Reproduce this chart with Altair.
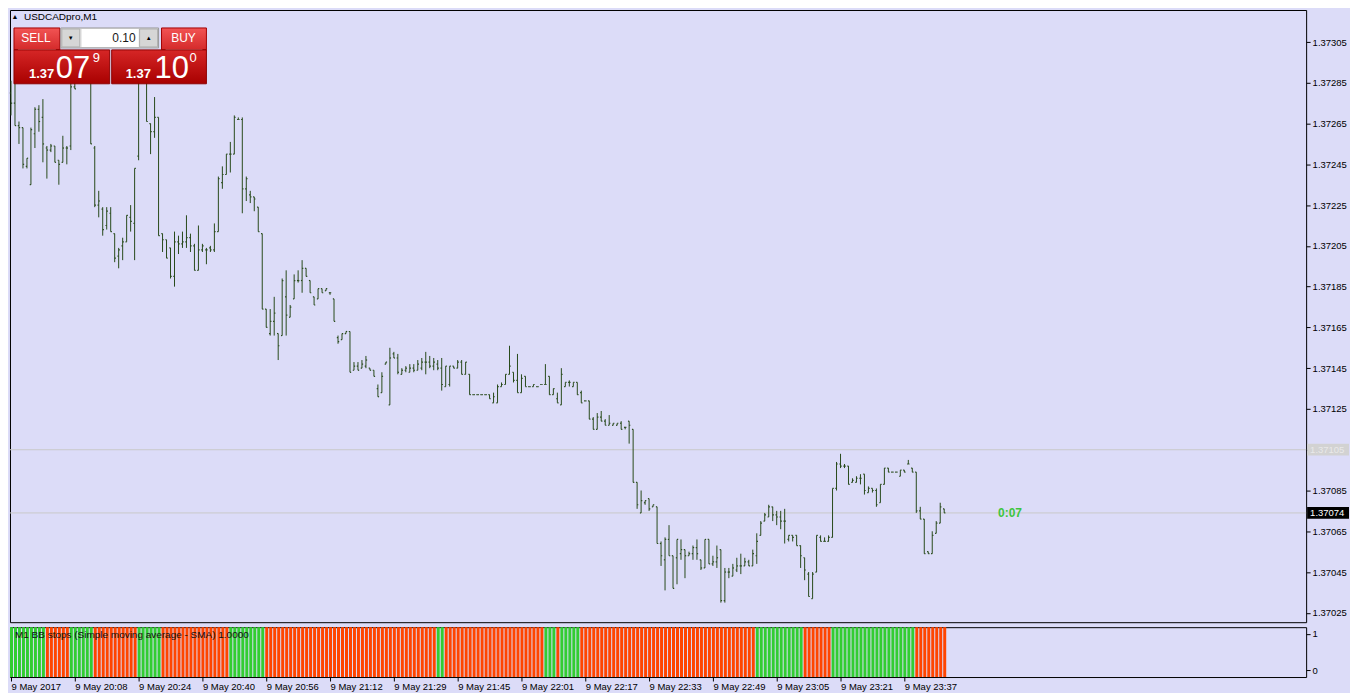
import json
import altair as alt
import pandas as pd

# ---------------- data (prices as 1.37 + value / 100000) ----------------
SYMBOL = "USDCADpro,M1"
BASE = 1.37

opens = [280, 275, 264, 263, 244, 235, 260, 272, 268, 253, 252, 254, 247, 246, 253, 254, 283, 288, 295, 292,
         288, 253, 225, 223, 215, 221, 211, 200, 205, 207, 219, 216, 249, 288, 290, 265, 261, 268, 211, 208,
         204, 190, 207, 206, 207, 209, 205, 193, 203, 203, 204, 203, 212, 236, 240, 250, 250, 267, 267, 233,
         230, 229, 224, 211, 174, 162, 168, 162, 161, 180, 170, 179, 188, 188, 194, 188, 180, 179, 184, 183,
         182, 179, 160, 159, 162, 163, 144, 146, 145, 146, 145, 144, 135, 133, 147, 127, 152, 150, 142, 144,
         143, 145, 144, 145, 148, 148, 146, 147, 145, 136, 137, 146, 145, 148, 142, 142, 132, 132, 132, 132,
         132, 128, 128, 136, 137, 142, 143, 139, 133, 141, 136, 136, 136, 137, 137, 141, 132, 130, 127, 136,
         138, 136, 138, 133, 129, 129, 120, 115, 121, 119, 117, 117, 117, 118, 116, 119, 115, 89, 74, 79,
         81, 77, 77, 59, 51, 61, 53, 52, 54, 56, 53, 54, 57, 51, 47, 61, 49, 50, 56, 31,
         45, 43, 46, 48, 48, 50, 48, 53, 63, 70, 72, 77, 73, 72, 70, 61, 63, 63, 58, 52,
         44, 32, 45, 62, 60, 60, 62, 86, 98, 97, 97, 89, 89, 91, 93, 84, 86, 85, 79, 88,
         96, 94, 94, 92, 95, 98, 96, 94, 75, 71, 55, 54, 64, 69, 76]
highs = [286, 286, 266, 263, 248, 263, 273, 274, 277, 254, 255, 254, 247, 259, 254, 290, 293, 298, 300, 296,
         290, 254, 232, 224, 224, 224, 211, 204, 209, 220, 225, 243, 295, 300, 293, 265, 278, 268, 211, 208,
         204, 212, 210, 212, 220, 211, 206, 215, 206, 204, 205, 216, 239, 244, 250, 256, 269, 268, 268, 239,
         232, 229, 224, 211, 174, 174, 180, 162, 189, 193, 176, 191, 193, 198, 194, 188, 180, 184, 184, 184,
         182, 179, 161, 162, 163, 163, 148, 148, 149, 151, 145, 144, 137, 143, 148, 155, 153, 152, 145, 146,
         147, 147, 149, 150, 153, 151, 150, 149, 150, 146, 146, 146, 149, 149, 148, 142, 132, 132, 132, 132,
         132, 133, 137, 138, 142, 156, 143, 152, 142, 141, 136, 137, 136, 137, 147, 141, 135, 133, 145, 138,
         139, 138, 138, 134, 129, 129, 121, 123, 124, 120, 122, 118, 118, 119, 116, 119, 115, 89, 85, 80,
         81, 78, 77, 60, 62, 68, 53, 61, 61, 56, 55, 58, 61, 51, 61, 61, 53, 58, 56, 47,
         47, 49, 52, 54, 52, 51, 56, 64, 70, 74, 78, 77, 75, 75, 76, 63, 63, 63, 58, 52,
         45, 45, 63, 63, 62, 63, 86, 99, 103, 98, 97, 91, 92, 93, 93, 87, 86, 86, 88, 96,
         96, 94, 94, 95, 95, 100, 96, 94, 77, 71, 55, 65, 70, 79, 76]
lows = [269, 264, 255, 243, 243, 235, 253, 261, 246, 238, 251, 246, 235, 246, 245, 252, 282, 286, 290, 286,
        255, 224, 219, 210, 213, 212, 197, 194, 198, 207, 212, 198, 247, 286, 266, 250, 258, 210, 202, 199,
        189, 185, 201, 204, 204, 202, 193, 193, 202, 196, 202, 202, 212, 233, 240, 241, 250, 267, 221, 227,
        226, 222, 212, 174, 165, 161, 161, 149, 161, 161, 170, 179, 187, 182, 190, 182, 176, 179, 182, 183,
        181, 168, 157, 159, 162, 143, 144, 144, 145, 145, 144, 141, 131, 133, 147, 127, 150, 142, 142, 143,
        143, 143, 144, 144, 142, 145, 144, 144, 134, 136, 136, 145, 145, 142, 142, 132, 132, 132, 132, 132,
        130, 128, 128, 136, 137, 142, 138, 133, 133, 136, 136, 136, 136, 137, 137, 132, 132, 128, 127, 136,
        136, 136, 132, 128, 129, 120, 115, 115, 119, 117, 117, 117, 117, 115, 115, 108, 89, 76, 74, 78,
        75, 77, 59, 48, 36, 53, 37, 39, 51, 42, 53, 51, 51, 46, 47, 49, 48, 47, 30, 30,
        42, 43, 45, 44, 48, 48, 48, 49, 63, 70, 72, 70, 68, 66, 59, 60, 60, 58, 47, 41,
        33, 32, 45, 60, 60, 60, 62, 85, 96, 96, 88, 89, 89, 88, 83, 84, 84, 77, 79, 88,
        94, 94, 94, 92, 94, 98, 94, 74, 71, 54, 54, 54, 64, 69, 74]
closes = [275, 264, 263, 245, 248, 262, 272, 266, 255, 252, 254, 246, 245, 253, 253, 283, 282, 295, 292, 288,
          255, 225, 227, 213, 222, 212, 199, 203, 207, 220, 217, 243, 288, 292, 266, 261, 268, 210, 208, 199,
          190, 207, 206, 207, 209, 205, 193, 203, 205, 203, 203, 212, 238, 240, 250, 250, 268, 267, 233, 238,
          229, 228, 212, 174, 165, 168, 172, 156, 188, 171, 175, 188, 188, 194, 190, 182, 176, 184, 182, 184,
          182, 168, 158, 162, 163, 143, 146, 144, 147, 149, 144, 141, 131, 141, 148, 150, 150, 143, 144, 145,
          145, 144, 147, 148, 148, 146, 148, 145, 137, 146, 146, 145, 148, 142, 148, 132, 132, 132, 132, 132,
          130, 131, 136, 137, 142, 146, 139, 133, 140, 136, 136, 137, 136, 137, 137, 132, 135, 128, 142, 138,
          138, 138, 132, 128, 129, 120, 115, 121, 119, 117, 118, 118, 118, 115, 116, 117, 89, 78, 80, 80,
          76, 78, 59, 53, 61, 53, 37, 61, 56, 53, 54, 57, 54, 47, 61, 49, 50, 52, 31, 45,
          45, 47, 48, 48, 50, 48, 54, 60, 69, 73, 77, 73, 72, 70, 70, 63, 62, 58, 53, 46,
          33, 44, 63, 60, 60, 62, 86, 98, 97, 97, 88, 90, 91, 91, 85, 86, 85, 78, 88, 96,
          94, 94, 94, 95, 94, 98, 94, 75, 71, 54, 54, 63, 69, 77, 74]

# BB stops indicator: runs of trend state, bar by bar from the left
bb_run_states = ["up", "down", "up", "down", "up", "down", "up", "down", "up", "down",
                 "up", "down", "up", "down", "up", "down", "up", "down"]
bb_run_lengths = [9, 6, 6, 11, 6, 17, 9, 43, 2, 25, 3, 1, 5, 44, 12, 7, 21, 8]
bb_label = "M1 BB stops (Simple moving average - SMA) 1.0000"

time_label_bars = [0, 16, 32, 48, 64, 80, 96, 112, 128, 144, 160, 176, 192, 208, 224]
time_labels = ["9 May 2017", "9 May 20:08", "9 May 20:24", "9 May 20:40", "9 May 20:56",
               "9 May 21:12", "9 May 21:29", "9 May 21:45", "9 May 22:01", "9 May 22:17",
               "9 May 22:33", "9 May 22:49", "9 May 23:05", "9 May 23:21", "9 May 23:37"]
price_ticks = [1.37025, 1.37045, 1.37065, 1.37085, 1.37105, 1.37125, 1.37145, 1.37165,
               1.37185, 1.37205, 1.37225, 1.37245, 1.37265, 1.37285, 1.37305]
price_domain = [1.370204, 1.373207]
bid_price = 1.37074
ask_line_price = 1.37105
timer_text = "0:07"
sell_price = ["1.37", "07", "9"]
buy_price = ["1.37", "10", "0"]
lot_text = "0.10"

# ---------------- styles ----------------
BG = "#DCDCF8"
BAR = "#284A1B"
FONT = "Liberation Sans"
W, H1, H2 = 1300, 614, 50

n = len(opens)
df = pd.DataFrame({
    "bar": list(range(n)),
    "open": [round(BASE + v / 1e5, 5) for v in opens],
    "high": [round(BASE + v / 1e5, 5) for v in highs],
    "low": [round(BASE + v / 1e5, 5) for v in lows],
    "close": [round(BASE + v / 1e5, 5) for v in closes],
})
df["xl"] = df["bar"] - 0.3
df["xm"] = df["bar"]
df["xr1"] = df["bar"]
df["xr2"] = df["bar"] + 0.3

states = []
for s, k in zip(bb_run_states, bb_run_lengths):
    states += [s] * k
bb = pd.DataFrame({"bar": list(range(len(states))), "state": states})
bb["x0"] = bb["bar"] - 0.25
bb["x1"] = bb["bar"] + 0.5
bb["top"] = 1.2
bb["bottom"] = -0.2

x_scale = alt.Scale(domain=[-0.25, W / 4 - 0.25], nice=False, zero=False)
y_scale = alt.Scale(domain=price_domain, nice=False, zero=False)
y_axis = alt.Axis(orient="right", values=price_ticks, format=".5f", title=None, tickSize=4,
                  domain=False, grid=False, labelFontSize=9.5, labelPadding=2)

lines_df = pd.DataFrame({"price": [ask_line_price, bid_price], "kind": ["ask", "bid"]})
one = pd.DataFrame({"k": [0]})

hlines = alt.Chart(lines_df).mark_rule(color="#C9C9C9", strokeWidth=1).encode(
    y=alt.Y("price:Q", scale=y_scale, axis=y_axis))

wick = alt.Chart(df).mark_rule(color=BAR, strokeWidth=1).encode(
    x=alt.X("bar:Q", scale=x_scale, axis=None),
    y=alt.Y("low:Q", scale=y_scale, axis=y_axis),
    y2="high:Q")
otick = alt.Chart(df).mark_rule(color=BAR, strokeWidth=1.2).encode(
    x=alt.X("xl:Q", scale=x_scale, axis=None), x2="xm:Q",
    y=alt.Y("open:Q", scale=y_scale, axis=y_axis))
ctick = alt.Chart(df).mark_rule(color=BAR, strokeWidth=1.2).encode(
    x=alt.X("xr1:Q", scale=x_scale, axis=None), x2="xr2:Q",
    y=alt.Y("close:Q", scale=y_scale, axis=y_axis))

BOX = "M-1,-0.28L1,-0.28L1,0.28L-1,0.28Z"
bid_df = lines_df[lines_df.kind == "bid"]
ask_df = lines_df[lines_df.kind == "ask"]
bid_box = alt.Chart(bid_df).mark_point(shape=BOX, filled=True, size=42 * 42, color="black",
                                       opacity=1, strokeWidth=0).encode(
    x=alt.value(W + 22), y=alt.Y("price:Q", scale=y_scale, axis=y_axis))
bid_txt = alt.Chart(bid_df).mark_text(align="left", baseline="middle", color="white",
                                      fontSize=9.5, font=FONT).encode(
    x=alt.value(W + 4), y=alt.Y("price:Q", scale=y_scale, axis=y_axis),
    text=alt.Text("price:Q", format=".5f"))
ask_box = alt.Chart(ask_df).mark_point(shape=BOX, filled=True, size=42 * 42, color="#D2D2D2",
                                       opacity=1, strokeWidth=0).encode(
    x=alt.value(W + 22), y=alt.Y("price:Q", scale=y_scale, axis=y_axis))
ask_txt = alt.Chart(ask_df).mark_text(align="left", baseline="middle", color="#E9E9E9",
                                      fontSize=9.5, font=FONT).encode(
    x=alt.value(W + 4), y=alt.Y("price:Q", scale=y_scale, axis=y_axis),
    text=alt.Text("price:Q", format=".5f"))
timer = alt.Chart(bid_df).mark_text(align="center", baseline="middle", color="#3EC53E",
                                    fontSize=12, fontWeight="bold", font=FONT, text=timer_text).encode(
    x=alt.value(1003), y=alt.Y("price:Q", scale=y_scale, axis=y_axis))


def grad(c1, c2):
    return alt.Gradient(gradient="linear", x1=0, x2=0, y1=0, y2=1,
                        stops=[alt.GradientStop(color=c1, offset=0),
                               alt.GradientStop(color=c2, offset=1)])


def rect(x1, x2, y1, y2, fill, stroke=None):
    kw = dict(color=fill)
    if stroke:
        kw["stroke"] = stroke
        kw["strokeWidth"] = 1
    return alt.Chart(one).mark_rect(**kw).encode(
        x=alt.value(x1), x2=alt.value(x2), y=alt.value(y1), y2=alt.value(y2))


def label(txt, x, y, size, color="white", align="left", weight="normal", baseline="middle"):
    return alt.Chart(one).mark_text(text=txt, align=align, baseline=baseline, fontSize=size,
                                    color=color, fontWeight=weight, font=FONT).encode(
        x=alt.value(x), y=alt.value(y))


panel = [
    label("\u25B2", 5, 7, 7, color="black", align="center"),
    label(SYMBOL, 14, 7, 10, color="black"),
    # sell
    rect(4, 50, 18, 40, grad("#F25454", "#D42A2A"), "#A30000"),
    rect(8, 46, 39, 40, "#F08080"),
    label("SELL", 26, 28.5, 12, align="center"),
    rect(4, 100, 40, 74, grad("#D62626", "#A80000"), "#8E0000"),
    label(sell_price[0], 19, 68, 13, weight="bold", baseline="alphabetic"),
    label(sell_price[1], 46, 68, 31, baseline="alphabetic"),
    label(sell_price[2], 83, 52, 13, baseline="alphabetic"),
    # lot
    rect(51, 149, 18, 38, "#E6E6E6", "#9A9A9A"),
    rect(52, 70, 19, 37, "#D6D6D6", "#B0B0B0"),
    rect(72, 129, 19, 37, "white"),
    rect(130, 148, 19, 37, "#D6D6D6", "#B0B0B0"),
    label("\u25BC", 61, 28, 6, color="black", align="center"),
    label("\u25B2", 139, 28, 6, color="black", align="center"),
    label(lot_text, 126, 28.5, 12, color="#1A1A1A", align="right"),
    # buy
    rect(152, 197, 18, 40, grad("#F25454", "#D42A2A"), "#A30000"),
    rect(156, 193, 39, 40, "#F08080"),
    label("BUY", 174, 28.5, 12, align="center"),
    rect(102, 197, 40, 74, grad("#D62626", "#A80000"), "#8E0000"),
    label(buy_price[0], 116, 68, 13, weight="bold", baseline="alphabetic"),
    label(buy_price[1], 145, 68, 31, baseline="alphabetic"),
    label(buy_price[2], 180, 52, 13, baseline="alphabetic"),
]

main = alt.layer(hlines, wick, otick, ctick, ask_box, ask_txt, bid_box, bid_txt, timer,
                 *panel).properties(width=W, height=H1)

x_axis = alt.Axis(orient="bottom", values=time_label_bars,
                  labelExpr=f"{json.dumps(time_labels)}[indexof({json.dumps(time_label_bars)}, datum.value)]",
                  tickSize=4, labelAlign="left", labelPadding=1, domain=False, grid=False,
                  labelFontSize=9.5, labelFlush=False, labelOverlap=False, title=None)
ind_y = alt.Scale(domain=[-0.18, 1.18], nice=False, zero=False, clamp=True)
ind_bars = alt.Chart(bb).mark_rect().encode(
    x=alt.X("x0:Q", scale=x_scale, axis=x_axis), x2="x1:Q",
    y=alt.Y("top:Q", scale=ind_y,
            axis=alt.Axis(orient="right", values=[0, 1], format="d", title=None, tickSize=4,
                          domain=False, grid=False, labelFontSize=9.5, labelPadding=2)),
    y2="bottom:Q",
    color=alt.Color("state:N", scale=alt.Scale(domain=["up", "down"], range=["#32CD32", "#FF4500"]),
                    legend=None))
ind_label = alt.Chart(one).mark_text(text=bb_label, align="left", baseline="middle", fontSize=10,
                                     color="#101010", font=FONT).encode(
    x=alt.value(5), y=alt.value(8))
ind = alt.layer(ind_bars, ind_label).properties(width=W, height=H2)

chart = alt.vconcat(main, ind, spacing=3).resolve_scale(
    x="shared", y="independent", color="independent"
).properties(
    background=BG, padding={"left": 0, "top": 0, "right": 0, "bottom": 0}
).configure_view(
    stroke="black", strokeWidth=1, fill=BG
).configure_axis(
    labelFont=FONT, labelColor="black", tickColor="black", tickWidth=1
)

chart.save("out.html", embed_options={"renderer": "svg", "actions": False})
